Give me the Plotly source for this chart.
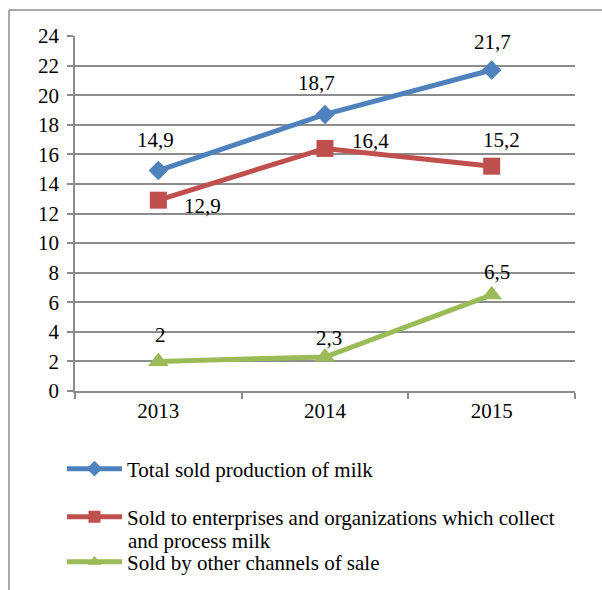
import plotly.graph_objects as go

years = ["2013", "2014", "2015"]
total_sold = [14.9, 18.7, 21.7]
sold_to_processors = [12.9, 16.4, 15.2]
sold_other_channels = [2.0, 2.3, 6.5]

series_names = [
    "Total sold production of milk",
    "Sold to enterprises and organizations which collect",
    "Sold by other channels of sale",
]
# wrapped tail of the second series name, set tighter than the legend's own line spacing
series2_name_tail = "and process milk"
colors = ["#4F81BD", "#C0504D", "#9BBB59"]
symbols = ["diamond", "square", "triangle-up"]
marker_sizes = [15, 17, 18]

FONT = "Liberation Serif"
FS = 21
GRID = "#8C8C8C"

# plot-area geometry in pixels (for converting frame/legend positions)
L, R, T, B = 75, 575, 36, 391
W, H = R - L, B - T


def px_x(x):
    return (x - L) / W


def px_y(y):
    return (B - y) / H


fig = go.Figure()
all_values = [total_sold, sold_to_processors, sold_other_channels]
legends = ["legend", "legend2", "legend3"]
for vals, name, col, sym, ms, lg in zip(all_values, series_names, colors, symbols, marker_sizes, legends):
    fig.add_trace(go.Scatter(
        x=years, y=vals, name=name, mode="lines+markers",
        line=dict(color=col, width=5),
        marker=dict(color=col, symbol=sym, size=ms),
        legend=lg, cliponaxis=False,
    ))

# value labels: (series values, pixel offsets per point)
label_offsets = [
    (total_sold, [(-3, 31), (-9, 31), (1, 28)]),
    (sold_to_processors, [(44, -6), (45, 7), (10, 26)]),
    (sold_other_channels, [(2, 26), (4, 19), (5, 23)]),
]
annotations = []
for vals, offs in label_offsets:
    for i, (v, (dx, dy)) in enumerate(zip(vals, offs)):
        annotations.append(dict(
            x=i, y=v, xref="x", yref="y",
            text=f"{v:g}".replace(".", ","), showarrow=False,
            xshift=dx, yshift=dy,
            font=dict(family=FONT, size=FS, color="#000000"),
        ))

annotations.append(dict(
    x=px_x(126), y=px_y(541), xref="paper", yref="paper",
    xanchor="left", yanchor="middle", showarrow=False,
    text=series2_name_tail,
    font=dict(family=FONT, size=FS, color="#000000"),
))

# outer chart frame (top and left edges visible, the rest runs off the page)
shapes = [
    dict(type="line", xref="paper", yref="paper",
         x0=px_x(9), y0=px_y(10), x1=px_x(640), y1=px_y(10),
         line=dict(color="#8C8C8C", width=1.5)),
    dict(type="line", xref="paper", yref="paper",
         x0=px_x(9), y0=px_y(10), x1=px_x(9), y1=px_y(640),
         line=dict(color="#8C8C8C", width=1.5)),
]

legend_common = dict(
    font=dict(family=FONT, size=FS, color="#000000"),
    bgcolor="rgba(0,0,0,0)", borderwidth=0,
    xanchor="left", yanchor="middle",
    itemwidth=55, itemsizing="constant", tracegroupgap=0,
)

fig.update_layout(
    width=602, height=590,
    margin=dict(l=L, r=602 - R, t=T, b=590 - B, autoexpand=False),
    paper_bgcolor="#FFFFFF", plot_bgcolor="#FFFFFF",
    font=dict(family=FONT, size=FS, color="#000000"),
    showlegend=True,
    legend=dict(x=px_x(62), y=px_y(469), **legend_common),
    legend2=dict(x=px_x(62), y=px_y(517), **legend_common),
    legend3=dict(x=px_x(62), y=px_y(562), **legend_common),
    xaxis=dict(
        type="category", range=[-0.5, 2.5],
        showline=True, linecolor=GRID, linewidth=1.5,
        ticks="outside", tickson="boundaries", ticklen=6, tickcolor=GRID, tickwidth=1.5,
        showgrid=False, zeroline=False,
        tickfont=dict(family=FONT, size=FS, color="#000000"),
    ),
    yaxis=dict(
        range=[0, 24], dtick=2, tick0=0,
        showline=True, linecolor=GRID, linewidth=1.5,
        ticks="outside", ticklen=6, tickcolor=GRID, tickwidth=1.5,
        showgrid=True, gridcolor=GRID, gridwidth=1.5,
        zeroline=False, ticklabelstandoff=4,
        tickfont=dict(family=FONT, size=FS, color="#000000"),
    ),
    annotations=annotations,
    shapes=shapes,
)

fig.write_html("out.html")
